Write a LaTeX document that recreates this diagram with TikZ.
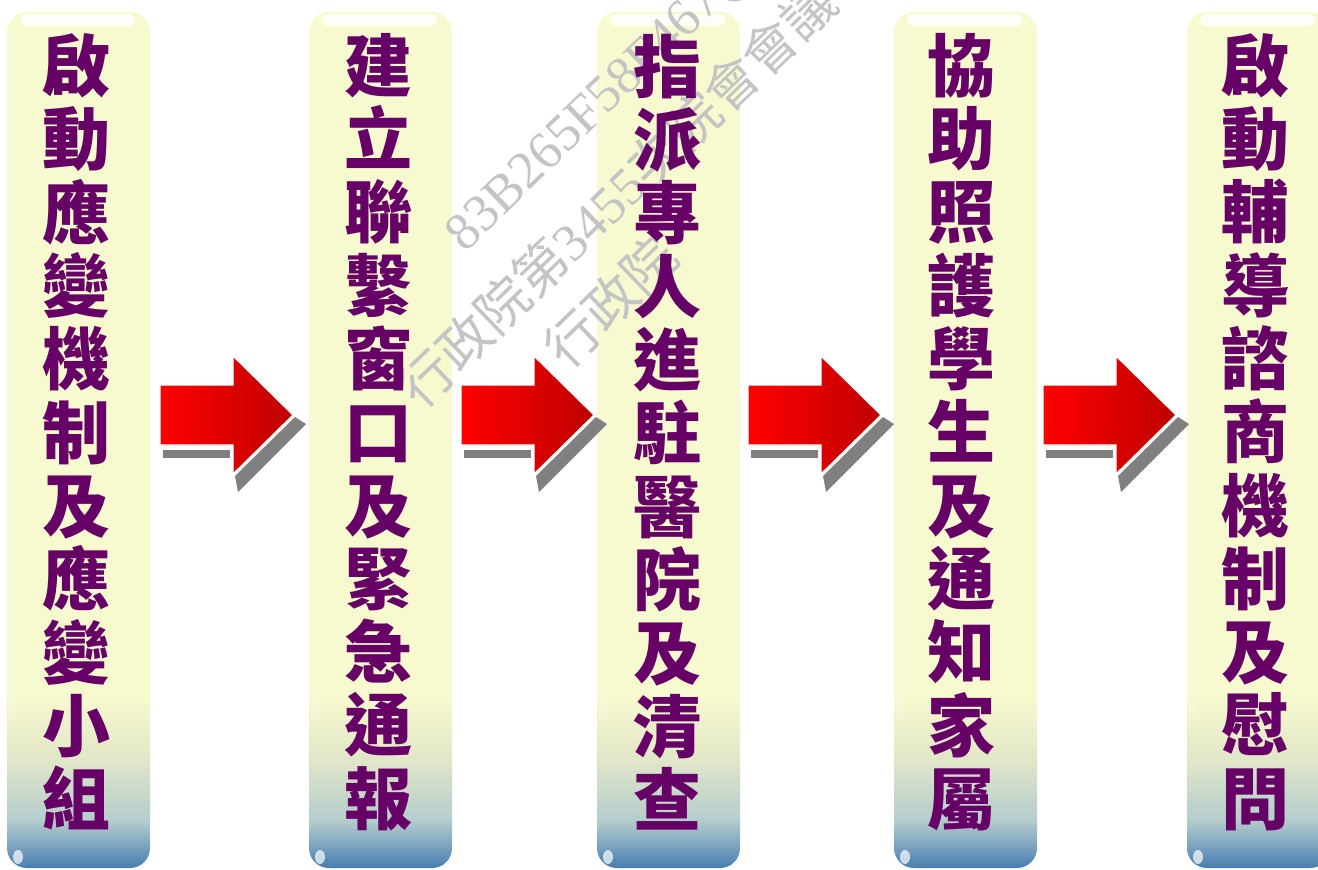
\documentclass[tikz,border=0pt]{standalone}
\usepackage{fontspec}
\setmainfont{Liberation Serif}
\newfontfamily\cjk{Noto Sans CJK TC}
\definecolor{cb1}{RGB}{70,125,175}
\definecolor{cb2}{RGB}{120,160,190}
\definecolor{cb3}{RGB}{180,205,205}
\definecolor{cb4}{RGB}{225,230,200}
\definecolor{cy}{RGB}{247,249,206}
\definecolor{txt}{RGB}{102,0,102}
\definecolor{redL}{RGB}{255,0,0}
\definecolor{redR}{RGB}{190,0,0}
\definecolor{shad}{RGB}{128,128,128}
\definecolor{wm}{RGB}{196,196,196}
\pgfdeclareverticalshading{boxshade}{100bp}{color(0bp)=(cb1); color(25bp)=(cb1); color(26.2bp)=(cb2); color(27.8bp)=(cb3); color(31.3bp)=(cb4); color(35bp)=(cy); color(100bp)=(cy)}
\tikzset{
  colbox/.style={rectangle, rounded corners=20pt, shading=boxshade, minimum width=143pt, minimum height=856pt, inner sep=0pt},
  coltext/.style={inner sep=0pt, align=center, text=txt, font=\cjk\bfseries\fontsize{68}{73.3}\selectfont},
  wmtext/.style={inner sep=0pt, anchor=west, rotate=44, text=wm, font=\fontsize{53}{53}\selectfont},
  gloss/.style={fill=white, opacity=.85, rounded corners=6pt},
  arrowbody/.style={left color=redL, right color=redR, draw=white, line width=1.2pt},
  arrowshadow/.style={fill=shad}
}
\begin{document}
\begin{tikzpicture}[x=1pt,y=-1pt]
\useasboundingbox (0,0) rectangle (1318,870);
\clip (0,0) rectangle (1318,870);
% columns
\foreach \n/\x in {1/7,2/309,3/597,4/894,5/1187}{
  \node[colbox] (b\n) at (\x+71.5,440) {};
  \fill[gloss] (\x+13,14) rectangle (\x+128,26);
  \fill[white,opacity=.18] (\x+2,32) rectangle (\x+10,720);
  \fill[white,opacity=.7] (\x+11,857) ellipse (5 and 7);
}
% arrows
\foreach \x in {160,461,748,1043}{
  \fill[arrowshadow] (\x+75,476) -- (\x+135,417) -- (\x+146,424) -- (\x+78,492) -- cycle;
  \fill[arrowshadow] (\x+3,450) rectangle (\x+70,458);
  \path[arrowbody] (\x,385) -- (\x+73,385) -- (\x+73,356) -- (\x+133,415) -- (\x+73,474) -- (\x+73,445) -- (\x,445) -- cycle;
}
% watermark
\node[wmtext] (w1) at (456,244) {83B265F58F467(};
\node[wmtext] (w2) at (407,397) {{\cjk 行政院第}3455{\cjk 次院會會議}};
\node[wmtext] (w3) at (553,357) {{\cjk 行政院}};
% texts
\node[coltext] (t1) at (76,432) {啟\\動\\應\\變\\機\\制\\及\\應\\變\\小\\組};
\node[coltext] (t2) at (378,432) {建\\立\\聯\\繫\\窗\\口\\及\\緊\\急\\通\\報};
\node[coltext] (t3) at (667,432) {指\\派\\專\\人\\進\\駐\\醫\\院\\及\\清\\查};
\node[coltext] (t4) at (961,432) {協\\助\\照\\護\\學\\生\\及\\通\\知\\家\\屬};
\node[coltext] (t5) at (1255,432) {啟\\動\\輔\\導\\諮\\商\\機\\制\\及\\慰\\問};
\end{tikzpicture}
\end{document}
